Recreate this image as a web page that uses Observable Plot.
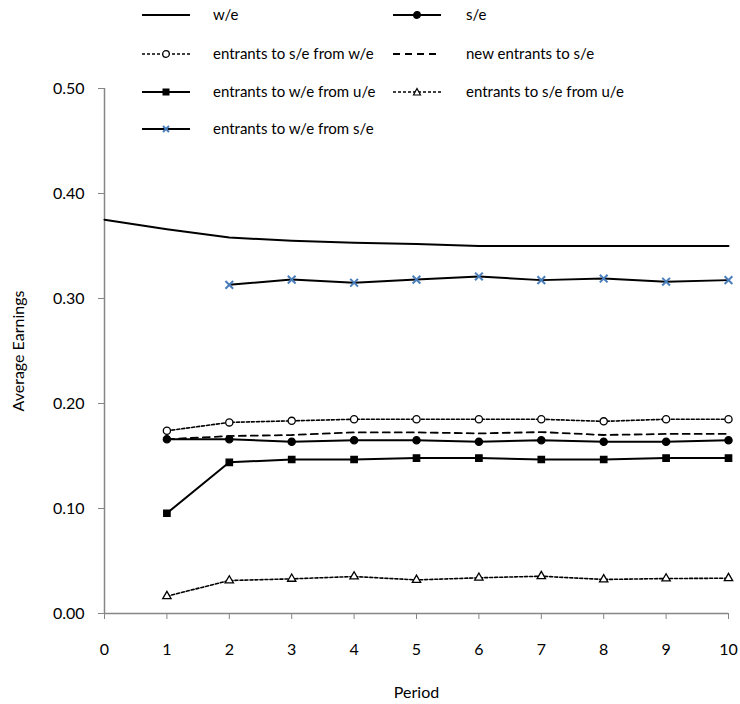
<!DOCTYPE html>
<html><head><meta charset="utf-8">
<script src="https://cdn.jsdelivr.net/npm/d3@7"></script>
<script src="https://cdn.jsdelivr.net/npm/@observablehq/plot@0.6"></script>
<style>
body{margin:0;background:#fff;font-family:Lato,sans-serif;}
#wrap{position:relative;width:740px;height:704px;}
#legend{position:absolute;left:0;top:0;}
</style></head><body><div id="wrap"><div id="chart"></div><svg id="legend" width="740" height="150"></svg></div>
<script>
const periods = [0,1,2,3,4,5,6,7,8,9,10];
const seriesNames = ["w/e","s/e","entrants to s/e from w/e","new entrants to s/e","entrants to w/e from u/e","entrants to s/e from u/e","entrants to w/e from s/e"];
const wE        = [0.375,0.366,0.358,0.355,0.353,0.352,0.350,0.350,0.350,0.350,0.350];
const sE        = [null,0.166,0.166,0.1635,0.165,0.165,0.1635,0.165,0.1635,0.1635,0.165];
const sFromW    = [null,0.174,0.182,0.1835,0.185,0.185,0.185,0.185,0.183,0.185,0.185];
const newToS    = [null,0.166,0.169,0.170,0.1725,0.1725,0.1715,0.1728,0.170,0.171,0.171];
const wFromU    = [null,0.0955,0.144,0.1467,0.1467,0.148,0.148,0.1467,0.1467,0.148,0.148];
const sFromU    = [null,0.0165,0.0314,0.033,0.0352,0.032,0.034,0.0355,0.0324,0.0333,0.0336];
const wFromS    = [null,null,0.313,0.318,0.315,0.318,0.321,0.3175,0.319,0.316,0.3175];
const yTicks = [0,0.1,0.2,0.3,0.4,0.5];
const xTicks = periods;

const values = [wE,sE,sFromW,newToS,wFromU,sFromU,wFromS];
const styles = [
  {dash:null, width:2, symbol:null},
  {dash:null, width:2, symbol:"circle", fill:"#000", stroke:"#000", r:3.6},
  {dash:"3,2", width:1.6, symbol:"circle", fill:"#fff", stroke:"#000", r:3.6},
  {dash:"7,5", width:1.8, symbol:null},
  {dash:null, width:2, symbol:"square", fill:"#000", stroke:"#000", r:3.6},
  {dash:"3,2", width:1.6, symbol:"triangle", fill:"#fff", stroke:"#000", r:3.1},
  {dash:null, width:2, symbol:"times", fill:"none", stroke:"#4a7ebb", r:3.6}
];

const marks = [];
seriesNames.forEach((name,i)=>{
  const rows = periods.map((p,j)=>({period:p, value:values[i][j], series:name})).filter(d=>d.value!=null);
  const st = styles[i];
  marks.push(Plot.line(rows,{x:"period",y:"value",stroke:"#000",strokeWidth:st.width,strokeDasharray:st.dash}));
  if (st.symbol) marks.push(Plot.dot(rows,{x:"period",y:"value",symbol:st.symbol,r:st.r,fill:st.fill,stroke:st.stroke,strokeWidth:st.symbol==="times"?2:1.3}));
});

const chart = Plot.plot({
  width:740, height:704,
  marginLeft:104, marginRight:12, marginTop:88, marginBottom:91,
  style:{fontFamily:"Lato, sans-serif", fontSize:"16px", color:"#000", background:"#fff"},
  x:{domain:[0,10]},
  y:{domain:[0,0.5]},
  marks:[
    Plot.axisX({ticks:xTicks, tickSize:6, tickPadding:24, stroke:"#868686", fill:"#000", tickFormat:d3.format("d"), label:"Period", labelAnchor:"center", labelArrow:"none", labelOffset:84, fontSize:16}),
    Plot.axisY({ticks:yTicks, tickSize:6, tickPadding:14, stroke:"#868686", fill:"#000", tickFormat:d3.format(".2f"), label:"Average Earnings", labelAnchor:"center", labelOffset:92, labelArrow:"none", fontSize:16}),
    Plot.ruleX([0],{stroke:"#868686",strokeWidth:1.5}),
    Plot.ruleY([0],{stroke:"#868686",strokeWidth:1.5}),
    ...marks
  ]
});
document.getElementById("chart").appendChild(chart);

// legend
const leg = d3.select("#legend");
const colX = [142, 393], textX = [213, 466], rowY = [15, 54, 92, 129];
seriesNames.forEach((name,i)=>{
  const c = i%2, r = Math.floor(i/2);
  const st = styles[i];
  const g = leg.append("g").attr("transform",`translate(${colX[c]},${rowY[r]})`);
  g.append("line").attr("x1",0).attr("x2",48).attr("y1",0).attr("y2",0)
    .attr("stroke","#000").attr("stroke-width",st.width).attr("stroke-dasharray",st.dash);
  if (st.symbol==="circle") g.append("circle").attr("cx",24).attr("r",3.3).attr("fill",st.fill).attr("stroke","#000").attr("stroke-width",1.3);
  if (st.symbol==="square") g.append("rect").attr("x",20.5).attr("y",-3.5).attr("width",7).attr("height",7).attr("fill","#000");
  if (st.symbol==="triangle") g.append("path").attr("d","M24,-3.5L27.5,3L20.5,3Z").attr("fill","#fff").attr("stroke","#000").attr("stroke-width",1.2);
  if (st.symbol==="times") g.append("path").attr("d","M21,-3L27,3M27,-3L21,3").attr("stroke",st.stroke).attr("stroke-width",2);
  leg.append("text").attr("x",textX[c]).attr("y",rowY[r]).attr("dy","0.35em")
    .attr("font-family","Lato, sans-serif").attr("font-size",15).attr("fill","#000").text(name);
});
</script></body></html>
